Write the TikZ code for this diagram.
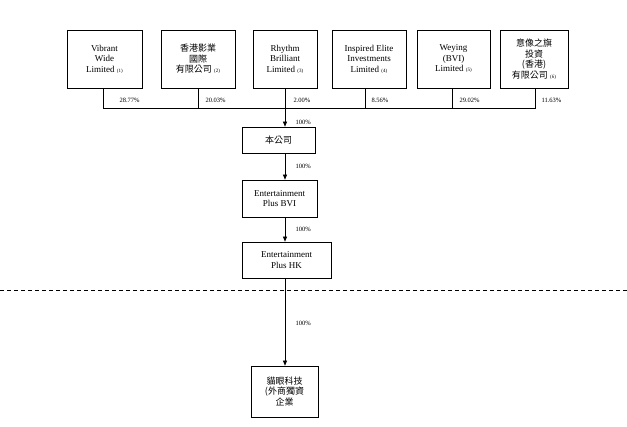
\documentclass[tikz,border=0pt]{standalone}
\usepackage{fontspec}
\setmainfont{Liberation Serif}
\newfontfamily\cjk{Noto Sans CJK TC}
\usetikzlibrary{arrows.meta}
\begin{document}
\begin{tikzpicture}[x=1pt,y=-1pt,
 box/.style={draw,line width=0.7pt,align=center,font=\fontsize{9}{10.5}\selectfont,inner sep=1pt},
 pct/.style={font=\fontsize{6.5}{7}\selectfont,anchor=west},
 ln/.style={line width=0.6pt},
 arr/.style={ln,-{Triangle[length=5pt,width=4pt]}}]
\useasboundingbox (0,0) rectangle (627,427);
\node[box,minimum width=75,minimum height=58] (a1) at (104.5,59) {Vibrant\\Wide\\Limited {\tiny(1)}};
\node[box,minimum width=74,minimum height=58] (a2) at (198,59) {{\cjk 香港影業}\\{\cjk 國際}\\{\cjk 有限公司} {\tiny(2)}};
\node[box,minimum width=64,minimum height=58] (a3) at (285,59) {Rhythm\\Brilliant\\Limited {\tiny(3)}};
\node[box,minimum width=74,minimum height=58] (a4) at (369,59) {Inspired Elite\\Investments\\Limited {\tiny(4)}};
\node[box,minimum width=73,minimum height=58] (a5) at (453.5,59) {Weying\\(BVI)\\Limited {\tiny(5)}};
\node[box,minimum width=68,minimum height=58] (a6) at (534,59) {{\cjk 意像之旗}\\{\cjk 投資}\\{\cjk (香港)}\\{\cjk 有限公司} {\tiny(6)}};
\coordinate (hl) at (103,108); \coordinate (hr) at (535,108);
\draw[ln] (103,88) -- (hl) -- (hr) -- (535,88);
\draw[ln] (198,88) -- (198,108);
\draw[ln] (365,88) -- (365,108);
\draw[ln] (452,88) -- (452,108);
\node[pct] at (116,100) {28.77\%};
\node[pct] at (202,100) {20.03\%};
\node[pct] at (290,100) {2.00\%};
\node[pct] at (368,100) {8.56\%};
\node[pct] at (456,100) {29.02\%};
\node[pct] at (538,100) {11.63\%};
\node[box,minimum width=73,minimum height=26] (b) at (278.5,140) {{\cjk 本公司}};
\node[box,minimum width=75,minimum height=37] (c) at (279.5,198.5) {Entertainment\\Plus BVI};
\node[box,minimum width=89,minimum height=36] (d) at (286.5,260) {Entertainment\\Plus HK};
\node[box,minimum width=67,minimum height=51] (e) at (284.5,391.5) {{\cjk 貓眼科技}\\{\cjk (外商獨資}\\{\cjk 企業}};
\draw[arr] (a3.south) -- (b.north -| a3.south);
\draw[arr] (b.south -| a3.south) -- (c.north -| a3.south);
\draw[arr] (c.south -| a3.south) -- (d.north -| a3.south);
\draw[arr] (d.south -| a3.south) -- (e.north -| a3.south);
\node[pct] at (292,122) {100\%};
\node[pct] at (292,166) {100\%};
\node[pct] at (292,229) {100\%};
\node[pct] at (292,323) {100\%};
\draw[ln,dashed,dash pattern=on 4pt off 3pt] (0,290) -- (627,290);
\end{tikzpicture}
\end{document}
